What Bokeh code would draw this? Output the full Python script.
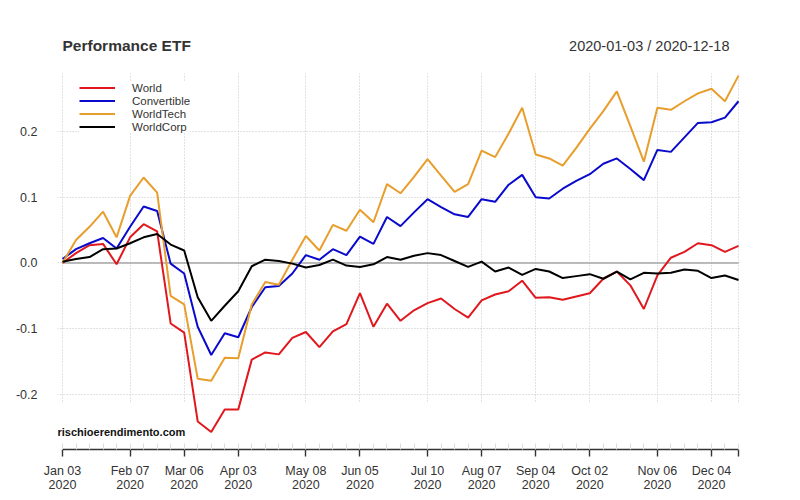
from datetime import datetime, timedelta
from bokeh.plotting import figure
from bokeh.models import (Range1d, FixedTicker, CustomJSTickFormatter, PrintfTickFormatter,
                          Label, Legend, LegendItem, BoxAnnotation)
from bokeh.embed import file_html
from bokeh.resources import INLINE

# ---------------- data ----------------
dates = [
    "2020-01-03", "2020-01-10", "2020-01-17", "2020-01-24", "2020-01-31",
    "2020-02-07", "2020-02-14", "2020-02-21", "2020-02-28",
    "2020-03-06", "2020-03-13", "2020-03-20", "2020-03-27",
    "2020-04-03", "2020-04-10", "2020-04-17", "2020-04-24",
    "2020-05-01", "2020-05-08", "2020-05-15", "2020-05-22", "2020-05-29",
    "2020-06-05", "2020-06-12", "2020-06-19", "2020-06-26",
    "2020-07-03", "2020-07-10", "2020-07-17", "2020-07-24", "2020-07-31",
    "2020-08-07", "2020-08-14", "2020-08-21", "2020-08-28",
    "2020-09-04", "2020-09-11", "2020-09-18", "2020-09-25",
    "2020-10-02", "2020-10-09", "2020-10-16", "2020-10-23", "2020-10-30",
    "2020-11-06", "2020-11-13", "2020-11-20", "2020-11-27",
    "2020-12-04", "2020-12-11", "2020-12-18",
]

world = [0.000, 0.015, 0.027, 0.029, -0.002, 0.039, 0.059, 0.048, -0.092, -0.106,
         -0.241, -0.257, -0.223, -0.223, -0.147, -0.136, -0.139, -0.114, -0.105, -0.128,
         -0.104, -0.093, -0.046, -0.097, -0.062, -0.088, -0.072, -0.061, -0.054, -0.070,
         -0.083, -0.057, -0.048, -0.043, -0.027, -0.053, -0.052, -0.056, -0.051, -0.046,
         -0.024, -0.013, -0.034, -0.070, -0.019, 0.008, 0.017, 0.030, 0.027, 0.017, 0.026]

convertible = [0.006, 0.021, 0.030, 0.038, 0.022, 0.055, 0.086, 0.079, -0.001, -0.016,
               -0.097, -0.140, -0.107, -0.113, -0.067, -0.037, -0.035, -0.016, 0.012, 0.005,
               0.021, 0.012, 0.040, 0.029, 0.070, 0.056, 0.077, 0.097, 0.085, 0.074,
               0.070, 0.097, 0.093, 0.119, 0.134, 0.100, 0.098, 0.113, 0.125, 0.135,
               0.151, 0.159, 0.143, 0.126, 0.172, 0.169, 0.191, 0.213, 0.214, 0.221, 0.246]

worldtech = [0.000, 0.035, 0.055, 0.078, 0.039, 0.102, 0.130, 0.107, -0.050, -0.063,
             -0.176, -0.179, -0.144, -0.145, -0.063, -0.029, -0.033, 0.005, 0.041, 0.019,
             0.058, 0.049, 0.081, 0.062, 0.120, 0.106, 0.131, 0.158, 0.133, 0.108,
             0.120, 0.171, 0.161, 0.197, 0.236, 0.165, 0.159, 0.148, 0.175, 0.204,
             0.231, 0.261, 0.208, 0.154, 0.236, 0.233, 0.246, 0.258, 0.265, 0.246, 0.285]

worldcorp = [0.002, 0.006, 0.009, 0.021, 0.022, 0.030, 0.039, 0.044, 0.028, 0.019,
             -0.052, -0.088, -0.065, -0.043, -0.005, 0.005, 0.003, -0.001, -0.007, -0.003,
             0.005, -0.004, -0.006, -0.002, 0.009, 0.005, 0.011, 0.015, 0.012, 0.003,
             -0.006, 0.002, -0.013, -0.007, -0.018, -0.009, -0.013, -0.023, -0.020, -0.017,
             -0.024, -0.013, -0.025, -0.015, -0.016, -0.015, -0.010, -0.012, -0.023, -0.019, -0.026]

series_names = ["World", "Convertible", "WorldTech", "WorldCorp"]
series_colors = ["#E0181E", "#0A0ACD", "#E89E2C", "#000000"]

tick_dates = ["2020-01-03", "2020-02-07", "2020-03-06", "2020-04-03", "2020-05-08",
              "2020-06-05", "2020-07-10", "2020-08-07", "2020-09-04", "2020-10-02",
              "2020-11-06", "2020-12-04", "2020-12-18"]
tick_labels = ["Jan 03\n2020", "Feb 07\n2020", "Mar 06\n2020", "Apr 03\n2020", "May 08\n2020",
               "Jun 05\n2020", "Jul 10\n2020", "Aug 07\n2020", "Sep 04\n2020", "Oct 02\n2020",
               "Nov 06\n2020", "Dec 04\n2020", ""]
y_ticks = [-0.2, -0.1, 0.0, 0.1, 0.2]

title_text = "Performance ETF"
range_text = "2020-01-03 / 2020-12-18"
watermark = "rischioerendimento.com"

# ---------------- helpers ----------------
EPOCH = datetime(1970, 1, 1)
def to_dt(s):
    return datetime.strptime(s, "%Y-%m-%d")
def to_ms(s):
    return (to_dt(s) - EPOCH).total_seconds() * 1000.0

x = [to_dt(d) for d in dates]
FONT = "Liberation Sans"
TXT = "#333333"

Y_TOP_DATA = 0.2882   # top of the drawn panel area (grid)
p = figure(width=790, height=495, x_axis_type="datetime",
           x_range=Range1d(x[0] - timedelta(days=2.59), x[-1] + timedelta(days=1.55)),
           y_range=Range1d(-0.2837, 0.3612),
           output_backend="svg", toolbar_location=None,
           min_border_left=57, min_border_right=49, min_border_top=25, min_border_bottom=46)
p.title.text = ""
p.outline_line_color = None
p.background_fill_color = "white"
p.border_fill_color = "white"

# axes
xa = p.xaxis[0]
xa.ticker = FixedTicker(ticks=[to_ms(d) for d in tick_dates], minor_ticks=[to_ms(d) for d in dates])
xa.formatter = CustomJSTickFormatter(args=dict(tms=[to_ms(d) for d in tick_dates], labels=tick_labels),
                                     code="const i = tms.indexOf(tick); return i >= 0 ? labels[i] : '';")
xa.bounds = (x[0], x[-1])
xa.axis_line_color = TXT
xa.axis_line_width = 1.4
xa.major_tick_in = 0
xa.major_tick_out = 7
xa.major_tick_line_color = TXT
xa.major_tick_line_width = 1.4
xa.minor_tick_in = 6
xa.minor_tick_out = 0
xa.minor_tick_line_color = "#dddddd"
xa.minor_tick_line_width = 1
xa.major_label_text_font = FONT
xa.major_label_text_font_size = "12.5px"
xa.major_label_text_color = TXT
xa.major_label_text_line_height = 1.0
xa.major_label_standoff = 7

ya = p.yaxis[0]
ya.ticker = FixedTicker(ticks=y_ticks)
ya.formatter = PrintfTickFormatter(format="%.1f")
ya.axis_line_color = None
ya.major_tick_line_color = None
ya.minor_tick_line_color = None
ya.major_label_text_font = FONT
ya.major_label_text_font_size = "12.5px"
ya.major_label_text_color = TXT
ya.major_label_standoff = 14

for g in (p.xgrid[0], p.ygrid[0]):
    g.grid_line_color = "#c4c4c4"
    g.grid_line_dash = "1 2"
    g.grid_line_width = 1
p.ygrid[0].ticker = FixedTicker(ticks=y_ticks)

# vertical grid lines only span the central band, as in the reference
p.add_layout(BoxAnnotation(top=-0.213, fill_color="white", fill_alpha=1.0,
                           line_color=None, level="underlay"))
p.add_layout(BoxAnnotation(bottom=Y_TOP_DATA, fill_color="white", fill_alpha=1.0,
                           line_color=None, level="underlay"))

# zero line
p.line(x=[x[0], x[-1]], y=[0, 0], line_color="#a6a6a6", line_width=1.5)

renderers = []
for vals, name, col in zip([world, convertible, worldtech, worldcorp], series_names, series_colors):
    r = p.line(x=x, y=vals, line_color=col, line_width=2)
    renderers.append(r)

legend = Legend(items=[LegendItem(label=n, renderers=[r]) for n, r in zip(series_names, renderers)],
                location=(22, 316))
legend.label_text_font = FONT
legend.label_text_font_size = "11.5px"
legend.label_text_line_height = 1.0
legend.label_text_color = TXT
legend.glyph_width = 36
legend.glyph_height = 13
legend.label_height = 13
legend.label_standoff = 17
legend.spacing = 0
legend.padding = 4
legend.margin = 0
legend.border_line_color = None
legend.background_fill_color = "white"
legend.background_fill_alpha = 1.0
p.add_layout(legend)

p.add_layout(Label(x=5, y=404, x_units="screen", y_units="screen", text=title_text,
                   text_font=FONT, text_font_style="bold", text_font_size="15.5px",
                   text_color=TXT, text_baseline="middle", text_align="left"))
p.add_layout(Label(x=672, y=404, x_units="screen", y_units="screen", text=range_text,
                   text_font=FONT, text_font_size="14.5px",
                   text_color=TXT, text_baseline="middle", text_align="right"))
p.add_layout(Label(x=0, y=18, x_units="screen", y_units="screen", text=watermark,
                   text_font=FONT, text_font_style="bold", text_font_size="11px",
                   text_color="#111111", text_baseline="middle", text_align="left"))

open("out.html", "w").write(file_html(p, INLINE))
